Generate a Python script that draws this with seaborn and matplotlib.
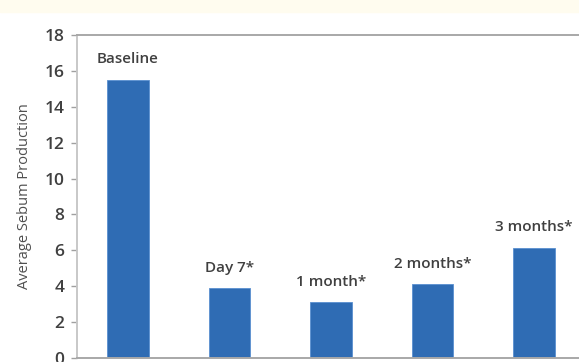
import matplotlib
matplotlib.use("Agg")
import matplotlib.pyplot as plt
import seaborn as sns
import pandas as pd

categories = ["Baseline", "Day 7", "1 month", "2 months", "3 months"]
values = [15.5, 3.9, 3.1, 4.1, 6.15]
bar_labels = ["Baseline", "Day 7*", "1 month*", "2 months*", "3 months*"]
yticks = [0, 2, 4, 6, 8, 10, 12, 14, 16, 18]

df = pd.DataFrame({"cat": categories, "val": values})

sns.set_theme(style="white")
plt.rcParams["font.family"] = ["Open Sans", "DejaVu Sans"]

fig = plt.figure(figsize=(5.79, 3.62), dpi=100)
fig.patch.set_facecolor("white")
fig.patches.append(plt.Rectangle((0, 1 - 12 / 362), 1, 12 / 362,
                                 transform=fig.transFigure, color="#fffcef",
                                 zorder=-1))
ax = fig.add_axes([77 / 579, 4 / 362, (585 - 77) / 579, (358 - 35) / 362])

sns.barplot(data=df, x="cat", y="val", color="#2f6cb4", saturation=1,
            width=0.41, ax=ax, edgecolor="#5a8fd0", linewidth=0.6)

ax.set_xlim(-0.5, 4.5)
ax.set_ylim(0, 18)
ax.set_yticks(yticks)
ax.set_yticklabels([str(t) for t in yticks], fontsize=12.5, color="#404040",
                   fontweight="semibold")
ax.set_xticks([])
ax.set_xlabel("")
ax.set_ylabel("Average Sebum Production", fontsize=10.5, color="#505050", labelpad=9)
ax.tick_params(axis="y", length=4, width=1, color="#a0a0a0", left=True, pad=5)

for s in ["left", "top", "bottom"]:
    ax.spines[s].set_visible(True)
    ax.spines[s].set_color("#a8a8a8")
    ax.spines[s].set_linewidth(1.4)
ax.spines["left"].set_color("#c8c8c8")
ax.spines["right"].set_visible(False)

for i, (v, lab) in enumerate(zip(values, bar_labels)):
    ax.text(i, v + 0.75, lab, ha="center", va="bottom", fontsize=11,
            fontweight="semibold", color="#404040")

fig.savefig("out.png", dpi=100)
